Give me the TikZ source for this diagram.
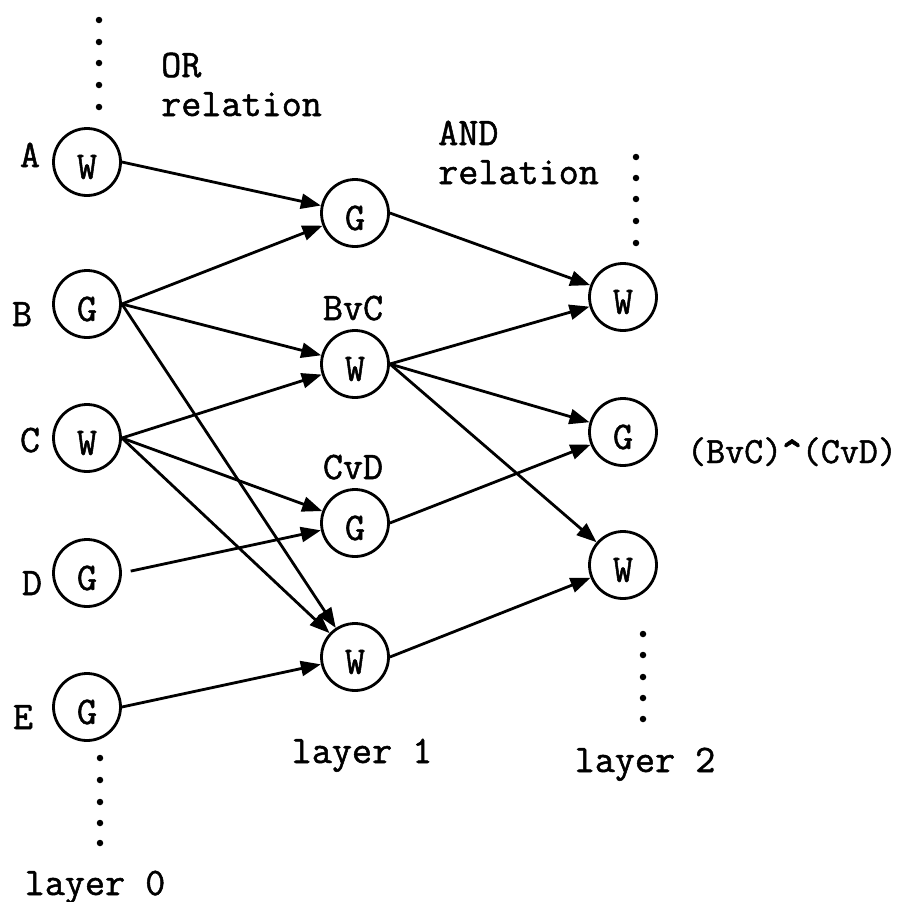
\documentclass[tikz,border=0pt]{standalone}
\usepackage{fontspec}
\newfontfamily\typew{Latin Modern Mono}[FakeBold=1.3]
\usetikzlibrary{arrows.meta}
\newcommand\bigcaret{\makebox[0.525em]{\raisebox{-0.3em}{\scalebox{1.05}[1.5]{\textasciicircum}}}}
\begin{document}
\begin{tikzpicture}[x=1pt,y=-1pt,
  every node/.style={font=\typew\fontsize{39}{44}\selectfont},
  unit/.style={circle,draw,line width=2.8pt,minimum size=67pt,inner sep=0pt,
    label={[yshift=-5pt]center:#1}},
  link/.style={line width=2.8pt,-{Triangle[length=20pt,width=15pt]}},
  txt/.style={anchor=base,inner sep=0pt},
  txtw/.style={anchor=base west,inner sep=0pt},
  dot/.style={circle,fill,inner sep=0pt,minimum size=6.5pt}
]
\useasboundingbox (0,0) rectangle (900,902);

% layer 0
\node[unit=W] (A0) at (87,162) {};
\node[unit=G] (B0) at (87,304) {};
\node[unit=W] (C0) at (87,438) {};
\node[unit=G] (D0) at (87,573) {};
\node[unit=G] (E0) at (87,707) {};
\node[txt] (lA) at (30,167) {A};
\node[txt] (lB) at (22,326) {B};
\node[txt] (lC) at (30,452) {C};
\node[txt] (lD) at (32,595) {D};
\node[txt] (lE) at (23,729) {E};

% layer 1
\node[unit=G] (P1) at (355,213) {};
\node[unit=W] (Q1) at (355,364) {};
\node[unit=G] (R1) at (355,523) {};
\node[unit=W] (S1) at (355,657) {};
\node[txt] (bvc) at (353,320) {BvC};
\node[txt] (cvd) at (353,479) {CvD};

% layer 2
\node[unit=W] (P2) at (623,297) {};
\node[unit=G] (Q2) at (623,432) {};
\node[unit=W] (R2) at (623,565) {};

% captions
\node[txtw] (orT) at (161,77) {OR};
\node[txtw] (orR) at (161,116) {relation};
\node[txtw] (andT) at (438,145) {AND};
\node[txtw] (andR) at (438,184) {relation};
\node[txt] (l0) at (95,895) {layer 0};
\node[txt] (l1) at (362,763) {layer 1};
\node[txt] (l2) at (645,772) {layer 2};
\node[txt,font=\typew\fontsize{37}{44}\selectfont] (conj) at (792,463) {(BvC)\bigcaret(CvD)};

% ellipsis dots
\foreach \y [count=\i] in {20,42,63,85,107}  \node[dot] (ta\i) at (99,\y) {};
\foreach \y [count=\i] in {758,780,802,823,843} \node[dot] (ba\i) at (100,\y) {};
\foreach \y [count=\i] in {157,178,199,221,243} \node[dot] (tc\i) at (636,\y) {};
\foreach \y [count=\i] in {634,655,677,698,719} \node[dot] (bc\i) at (643,\y) {};

% OR connections
\draw[link] (A0.east) -- (P1);
\draw[link] (B0.east) -- (P1);
\draw[link] (B0.east) -- (Q1);
\draw[link] (B0.east) -- (S1);
\draw[link] (C0.east) -- (Q1);
\draw[link] (C0.east) -- (R1);
\draw[link] (C0.east) -- (S1);
\draw[link,shorten <=9pt] (D0.east) -- (R1);
\draw[link] (E0.east) -- (S1);

% AND connections
\draw[link] (P1.east) -- (P2);
\draw[link] (Q1.east) -- (P2);
\draw[link] (Q1.east) -- (Q2);
\draw[link] (Q1.east) -- (R2);
\draw[link] (R1.east) -- (Q2);
\draw[link] (S1.east) -- (R2);
\end{tikzpicture}
\end{document}
